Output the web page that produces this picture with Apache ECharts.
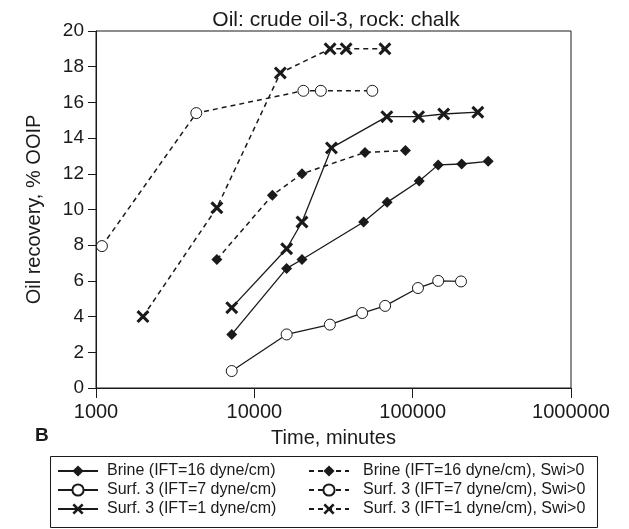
<!DOCTYPE html>
<html>
<head>
<meta charset="utf-8">
<script src="https://cdn.jsdelivr.net/npm/echarts@6/dist/echarts.min.js"></script>
<style>
  html, body { margin: 0; padding: 0; background: #fff; }
  #chart { width: 629px; height: 529px; }
</style>
</head>
<body>
<div id="chart"></div>
<script>
// time (minutes) and oil recovery (% OOIP)
const brineX = [7200, 16000, 20000, 49000, 69000, 110000, 145000, 204000, 300000]
const brineY = [3.0, 6.7, 7.2, 9.3, 10.4, 11.6, 12.5, 12.55, 12.7]
const brineSwiX = [5800, 13000, 20000, 50000, 90000]
const brineSwiY = [7.2, 10.8, 12.0, 13.2, 13.3]
const surf7X = [7200, 16000, 30000, 48000, 67000, 108000, 145000, 202000]
const surf7Y = [0.95, 3.0, 3.55, 4.2, 4.6, 5.6, 6.0, 5.97]
const surf7SwiX = [1090, 4300, 20400, 26300, 55600]
const surf7SwiY = [7.95, 15.4, 16.65, 16.65, 16.65]
const surf1X = [7200, 16000, 20000, 30700, 68700, 109000, 157000, 258000]
const surf1Y = [4.5, 7.8, 9.3, 13.45, 15.2, 15.2, 15.35, 15.45]
const surf1SwiX = [1980, 5800, 14600, 30100, 38000, 66800]
const surf1SwiY = [4.0, 10.1, 17.65, 19.0, 19.0, 19.0]

const solidNames = ['Brine (IFT=16 dyne/cm)', 'Surf. 3 (IFT=7 dyne/cm)', 'Surf. 3 (IFT=1 dyne/cm)']
const dashedNames = ['Brine (IFT=16 dyne/cm), Swi>0', 'Surf. 3 (IFT=7 dyne/cm), Swi>0', 'Surf. 3 (IFT=1 dyne/cm), Swi>0']

const ink = '#1a1a1a'
const crossPath = 'path://M0,2 L2,0 L6,4 L10,0 L12,2 L8,6 L12,10 L10,12 L6,8 L2,12 L0,10 L4,6 Z'

function pairs(xs, ys) {
    return xs.map((x, i) => [x, ys[i]])
}

function makeSeries(name, xs, ys, kind, dashed) {
    let symbol = 'diamond', size = 11, fill = ink
    if (kind === 'circle') { symbol = 'circle'; size = 11; fill = '#fff' }
    if (kind === 'cross') { symbol = crossPath; size = 13; fill = ink }
    return {
        name: name,
        type: 'line',
        data: pairs(xs, ys),
        symbol: symbol,
        symbolSize: size,
        showAllSymbol: true,
        itemStyle: { color: fill, borderColor: ink, borderWidth: kind === 'circle' ? 1 : 0 },
        lineStyle: { color: ink, width: dashed ? 1.5 : 1.3, type: dashed ? [5, 4] : 'solid' },
        emphasis: { disabled: true },
        z: dashed ? 2 : 3
    }
}

// one legend per entry so the two columns sit where they do in the picture
function legendItem(name, left, top, pad) {
    return {
        data: [name],
        left: left,
        top: top,
        itemWidth: 40,
        itemHeight: 14,
        selectedMode: false,
        padding: 0,
        textStyle: { fontFamily: 'Liberation Sans', fontSize: 16, color: ink, padding: [0, 0, 0, pad] }
    }
}
const rowTops = [463, 482, 501]

const option = {
    animation: false,
    backgroundColor: '#fff',
    title: {
        text: 'Oil: crude oil-3, rock: chalk',
        left: 331,
        textAlign: 'center',
        top: 5,
        textStyle: { fontFamily: 'Liberation Sans', fontSize: 21, fontWeight: 'normal', color: ink }
    },
    grid: {
        left: 96, right: 58, top: 31, bottom: 141,
        show: true, borderColor: ink, borderWidth: 1, backgroundColor: 'transparent'
    },
    xAxis: {
        type: 'log',
        logBase: 10,
        min: 1000,
        max: 1000000,
        name: 'Time, minutes',
        nameLocation: 'middle',
        nameGap: 40,
        nameTextStyle: { fontFamily: 'Liberation Sans', fontSize: 20, color: ink },
        axisLine: { show: true, lineStyle: { color: ink, width: 1 } },
        axisTick: { show: true, inside: false, length: 10, lineStyle: { color: ink } },
        minorTick: { show: false },
        splitLine: { show: false },
        axisLabel: {
            fontFamily: 'Liberation Sans', fontSize: 20, color: ink, margin: 14,
            formatter: v => String(Math.round(v))
        }
    },
    yAxis: {
        type: 'value',
        min: 0,
        max: 20,
        interval: 2,
        name: 'Oil recovery, % OOIP',
        nameLocation: 'middle',
        nameGap: 52,
        nameTextStyle: { fontFamily: 'Liberation Sans', fontSize: 20, color: ink },
        axisLine: { show: true, lineStyle: { color: ink, width: 1 } },
        axisTick: { show: true, inside: false, length: 8, lineStyle: { color: ink } },
        splitLine: { show: false },
        axisLabel: { fontFamily: 'Liberation Sans', fontSize: 19, color: ink, margin: 12 }
    },
    legend: [
        legendItem(solidNames[0], 57, rowTops[0], 4),
        legendItem(solidNames[1], 57, rowTops[1], 4),
        legendItem(solidNames[2], 57, rowTops[2], 4),
        legendItem(dashedNames[0], 308, rowTops[0], 9),
        legendItem(dashedNames[1], 308, rowTops[1], 9),
        legendItem(dashedNames[2], 308, rowTops[2], 9)
    ],
    graphic: [
        {
            type: 'rect',
            shape: { x: 50.5, y: 456.5, width: 547, height: 71 },
            style: { fill: 'none', stroke: ink, lineWidth: 1 },
            silent: true
        },
        {
            type: 'text',
            left: 35,
            top: 426,
            style: { text: 'B', fontFamily: 'Liberation Sans', fontSize: 19, fontWeight: 'bold', fill: ink }
        }
    ],
    series: [
        makeSeries(solidNames[0], brineX, brineY, 'diamond', false),
        makeSeries(solidNames[1], surf7X, surf7Y, 'circle', false),
        makeSeries(solidNames[2], surf1X, surf1Y, 'cross', false),
        makeSeries(dashedNames[0], brineSwiX, brineSwiY, 'diamond', true),
        makeSeries(dashedNames[1], surf7SwiX, surf7SwiY, 'circle', true),
        makeSeries(dashedNames[2], surf1SwiX, surf1SwiY, 'cross', true)
    ]
}

const chart = echarts.init(document.getElementById('chart'))
chart.setOption(option)
</script>
</body>
</html>
